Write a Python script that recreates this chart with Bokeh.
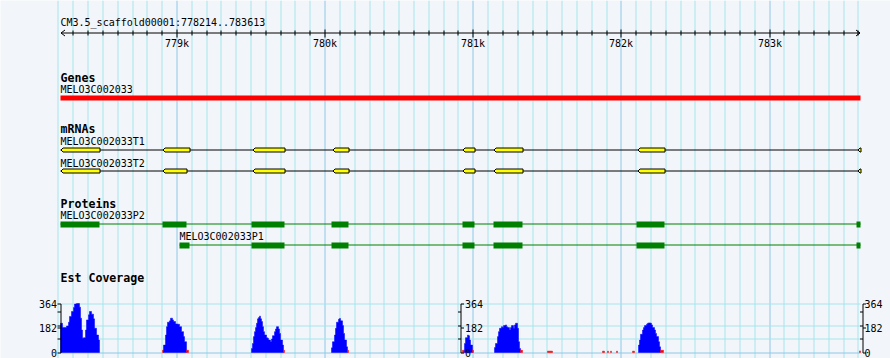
import math
from bokeh.plotting import figure
from bokeh.models import Range1d
from bokeh.embed import file_html
from bokeh.resources import INLINE
from bokeh.core.properties import value

# ---------------- data ----------------
region_name = "CM3.5_scaffold00001"
region_start = 778214
region_end = 783613

gene_name = "MELO3C002033"
gene_span = [778214, 783613]

t1_name = "MELO3C002033T1"
t1_exon_starts = [778214, 778909, 779510, 780050, 780934, 781143, 782115, 783600]
t1_exon_ends = [778477, 779085, 779726, 780158, 781008, 781332, 782291, 783613]

t2_name = "MELO3C002033T2"
t2_exon_starts = [778214, 778909, 779510, 780050, 780934, 781143, 782115, 783600]
t2_exon_ends = [778477, 779064, 779726, 780158, 781008, 781332, 782291, 783613]

p2_name = "MELO3C002033P2"
p2_cds_starts = [778214, 778902, 779503, 780043, 780927, 781137, 782102, 783589]
p2_cds_ends = [778477, 779064, 779726, 780158, 781008, 781332, 782291, 783613]

p1_name = "MELO3C002033P1"
p1_cds_starts = [779017, 779503, 780043, 780927, 781137, 782102, 783589]
p1_cds_ends = [779085, 779726, 780158, 781008, 781332, 782291, 783613]

track_titles = ["Genes", "mRNAs", "Proteins", "Est Coverage"]

# EST coverage: bin start positions and values (a 0 closes a run)
cov_pos = [
    778214, 778228, 778255, 778268, 778277, 778288, 778300, 778311, 778322, 778340,
    778347, 778356, 778363, 778369, 778383, 778390, 778401, 778412, 778423, 778435,
    778446, 778457, 778468, 778475, 778478,
    778903, 778911, 778921, 778930, 778939, 778948, 778959, 778968, 778979, 778992,
    779006, 779019, 779031, 779042, 779053, 779062, 779076,
    779503, 779510, 779517, 779524, 779530, 779537, 779544, 779553, 779559, 779566,
    779573, 779580, 779586, 779593, 779603, 779611, 779620, 779630, 779638, 779647,
    779656, 779665, 779674, 779683, 779692, 779701, 779710, 779717, 779726,
    780043, 780052, 780061, 780070, 780079, 780088, 780097, 780106, 780115, 780124,
    780133, 780142, 780149, 780158,
    780930, 780941, 780950, 780959, 780966, 780975, 780984, 780993, 781004,
    781144, 781152, 781162, 781171, 781179, 781189, 781198, 781206, 781216, 781225,
    781233, 781243, 781252, 781260, 781270, 781279, 781287, 781297, 781306, 781314,
    781321, 781333,
    781499, 781533, 781870, 781884, 781904, 781915, 781926, 781933, 781965, 781972,
    782075, 782086,
    782113, 782122, 782131, 782140, 782149, 782158, 782167, 782176, 782185, 782194,
    782203, 782212, 782221, 782230, 782239, 782248, 782257, 782266, 782286,
    783605, 783614,
]
cov_val = [
    217, 185, 197, 225, 268, 305, 335, 360, 364, 337,
    255, 167, 105, 110, 167, 242, 280, 305, 285, 250,
    180, 130, 92, 35, 0,
    17, 55, 130, 192, 225, 235, 255, 242, 230, 212,
    210, 192, 155, 118, 80, 17, 0,
    30, 67, 118, 155, 185, 217, 250, 260, 270, 250,
    230, 192, 155, 130, 110, 105, 92, 80, 100, 125,
    155, 175, 192, 175, 142, 92, 55, 17, 0,
    35, 80, 130, 180, 225, 247, 253, 235, 200, 142,
    92, 42, 17, 0,
    17, 67, 110, 130, 125, 92, 55, 17, 0,
    37, 67, 118, 155, 180, 192, 185, 200, 205, 192,
    185, 167, 185, 200, 180, 205, 217, 180, 80, 30,
    17, 0,
    10, 0, 10, 0, 10, 0, 10, 0, 10, 0,
    10, 0,
    55, 92, 135, 167, 185, 200, 210, 217, 220, 217,
    205, 185, 167, 142, 118, 80, 42, 17, 0,
    12, 0,
]
cov_max = 364
cov_labels = [0, 182, 364]
cov_minor_ticks = [100, 200, 300]
cov_gridlines = [100, 200, 364]
low_cutoff = 25

ruler_minor = 100
ruler_major = 1000

# ---------------- styles / layout ----------------
W, H = 890, 358
BG = "#F2F5FA"
GRID_MINOR = "#A4E6EC"
GRID_MAJOR = "#8FC8E6"
MONO = value("DejaVu Sans Mono")
TDY = -3.0                      # text baseline correction (px)
BP_PX = 5400 / 800.0            # bp per pixel
LEFT_PX = 60.0
x0 = region_start - LEFT_PX * BP_PX
x1 = x0 + W * BP_PX
span_end = region_end + 1

# coverage y-range: 0 -> 352 px from top, 364 -> 303 px
k = 49.0 / cov_max
cov_lo = -(H - 352) / k
cov_hi = cov_lo + H / k


def px(n):
    return n * BP_PX


def snap_c(g):
    """snap a genomic position to the centre of its pixel column (crisp 1px lines)"""
    return x0 + (math.floor((g - x0) / BP_PX) + 0.5) * BP_PX


def snap_e(g):
    """snap a genomic position to the nearest pixel edge"""
    return x0 + round((g - x0) / BP_PX) * BP_PX


def snap_cov(v):
    """snap a coverage value to a pixel-row centre"""
    ypix = H - (v - cov_lo) * k
    ypix = math.floor(ypix) + 0.5
    return cov_lo + (H - ypix) / k


p = figure(width=W, height=H, output_backend="svg", toolbar_location=None,
           x_range=Range1d(x0, x1), y_range=Range1d(H, 0),
           min_border=0, x_axis_location=None, y_axis_location=None)
p.extra_y_ranges = {"cov": Range1d(cov_lo, cov_hi)}
p.background_fill_color = BG
p.border_fill_color = BG
p.outline_line_color = None
p.xgrid.visible = False
p.ygrid.visible = False

# vertical grid lines (underlay so data draws on top)
first = (region_start // ruler_minor) * ruler_minor
grid_x = list(range(first, region_end + 1, ruler_minor))
minor_x = [snap_c(g) for g in grid_x if g % ruler_major != 0]
major_x = [snap_c(g) for g in grid_x if g % ruler_major == 0]
r = p.segment(x0=minor_x, y0=[0] * len(minor_x), x1=minor_x, y1=[H] * len(minor_x),
              line_color=GRID_MINOR, line_width=1)
r.level = "underlay"
r = p.segment(x0=major_x, y0=[0] * len(major_x), x1=major_x, y1=[H] * len(major_x),
              line_color=GRID_MAJOR, line_width=1)
r.level = "underlay"

# coverage horizontal grid
hg = [snap_cov(v) for v in cov_gridlines]
r = p.segment(x0=[snap_e(region_start)] * len(hg), y0=hg,
              x1=[snap_e(span_end)] * len(hg), y1=hg,
              line_color=GRID_MINOR, line_width=1, y_range_name="cov")
r.level = "underlay"
r = p.segment(x0=[snap_e(region_start)], y0=[snap_cov(0)], x1=[snap_e(span_end)], y1=[snap_cov(0)],
              line_color=GRID_MAJOR, line_width=1, y_range_name="cov")
r.level = "underlay"

# ---------------- ruler ----------------
p.text(x=[region_start], y=[24.5 + TDY], text=[f"{region_name}:{region_start}..{region_end}"],
       text_font=MONO, text_font_size="10px", text_color="black",
       text_baseline="alphabetic", text_align="left")
ry = 32.5
rs, re_ = snap_c(region_start), snap_c(span_end - 1)
p.segment(x0=[rs], y0=[ry], x1=[re_], y1=[ry], line_color="black", line_width=1)
p.segment(x0=[rs, rs], y0=[ry, ry], x1=[rs + px(4), rs + px(4)], y1=[29.5, 35.5],
          line_color="black", line_width=1)
p.segment(x0=[re_, re_], y0=[ry, ry], x1=[re_ - px(4), re_ - px(4)], y1=[29.5, 35.5],
          line_color="black", line_width=1)
tick_x = [g for g in grid_x if g > region_start]
tminor = [snap_c(g) for g in tick_x if g % ruler_major != 0]
tmaj_g = [g for g in tick_x if g % ruler_major == 0]
tmajor = [snap_c(g) for g in tmaj_g]
p.segment(x0=tminor, y0=[30] * len(tminor), x1=tminor, y1=[35] * len(tminor),
          line_color="black", line_width=1)
p.segment(x0=tmajor, y0=[29] * len(tmajor), x1=tmajor, y1=[37] * len(tmajor),
          line_color="black", line_width=1)
p.text(x=tmajor, y=[46 + TDY] * len(tmajor), text=[f"{g // 1000}k" for g in tmaj_g],
       text_font=MONO, text_font_size="10px", text_color="black",
       text_baseline="alphabetic", text_align="center")

# ---------------- track titles ----------------
title_y = [80 + TDY, 131.5 + TDY, 206 + TDY, 280 + TDY]
p.text(x=[region_start] * 4, y=title_y, text=track_titles,
       text_font=MONO, text_font_size="11.6px", text_font_style="bold",
       text_color="black", text_baseline="alphabetic", text_align="left")


def label(xg, yb, s):
    p.text(x=[xg], y=[yb + TDY], text=[s], text_font=MONO, text_font_size="10px",
           text_color="black", text_baseline="alphabetic", text_align="left")


# ---------------- genes ----------------
label(gene_span[0], 92.3, gene_name)
p.quad(left=[snap_e(gene_span[0])], right=[snap_e(gene_span[1] + 1)], bottom=[100], top=[95],
       fill_color="#FF0000", line_color=None)


# ---------------- mRNAs ----------------
def mrna(starts, ends, top, bot, name, label_y):
    label(starts[0], label_y, name)
    mid = (top + bot) / 2.0
    p.segment(x0=[snap_e(starts[0])], y0=[mid], x1=[snap_e(ends[-1] + 1)], y1=[mid],
              line_color="black", line_width=1)
    xs, ys = [], []
    notch = px(2)
    for s, e in zip(starts, ends):
        s = snap_c(s)
        e = snap_c(e + 1)
        if s <= region_start:
            xs.append([s, e, e, s])
            ys.append([top, top, bot, bot])
        else:
            xs.append([s, s + notch, e, e, s + notch])
            ys.append([mid, top, top, bot, bot])
    p.patches(xs=xs, ys=ys, fill_color="#FFFF00", line_color="black", line_width=1)


mrna(t1_exon_starts, t1_exon_ends, 147.5, 151.5, t1_name, 144)
mrna(t2_exon_starts, t2_exon_ends, 168.5, 172.5, t2_name, 165.7)


# ---------------- proteins ----------------
def protein(starts, ends, top, bot, line_y, name, label_y):
    label(starts[0], label_y, name)
    p.segment(x0=[snap_e(starts[0])], y0=[line_y], x1=[snap_e(ends[-1] + 1)], y1=[line_y],
              line_color="#008000", line_width=1)
    p.quad(left=[snap_e(s) for s in starts], right=[snap_e(e + 1) for e in ends],
           top=[top] * len(starts), bottom=[bot] * len(starts),
           fill_color="#008000", line_color=None)


protein(p2_cds_starts, p2_cds_ends, 221, 227, 223.5, p2_name, 218)
protein(p1_cds_starts, p1_cds_ends, 242, 248, 244.5, p1_name, 239.3)

# ---------------- EST coverage (step polygons, one per same-colour run) ----------------
runs = []          # (colour, [(left, right, value), ...])
for i in range(len(cov_pos) - 1):
    v = cov_val[i]
    if v <= 0:
        continue
    col = "#FF0000" if v < low_cutoff else "#0000FF"
    lft, rgt = snap_e(cov_pos[i]), snap_e(cov_pos[i + 1])
    if runs and runs[-1][0] == col and abs(runs[-1][1][-1][1] - lft) < 1e-6:
        runs[-1][1].append((lft, rgt, v))
    else:
        runs.append((col, [(lft, rgt, v)]))

pxs, pys, pcols = [], [], []
for col, bins in runs:
    xs = [bins[0][0]]
    ys = [0]
    for lft, rgt, v in bins:
        xs += [lft, rgt]
        ys += [v, v]
    xs.append(bins[-1][1])
    ys.append(0)
    pxs.append(xs)
    pys.append(ys)
    pcols.append(col)
p.patches(xs=pxs, ys=pys, fill_color=pcols, fill_alpha=1.0, line_color=pcols,
          line_width=0.5, y_range_name="cov")

# axes of the coverage track
ax_left = snap_c(region_start)
ax_mid = snap_c(region_start + px(400))
ax_right = snap_c(region_start + px(802))
lab_s = [snap_cov(v) for v in cov_labels]
min_s = [snap_cov(v) for v in cov_minor_ticks]
for ax, side in [(ax_left, "left"), (ax_mid, "mid"), (ax_right, "right")]:
    p.segment(x0=[ax], y0=[snap_cov(0)], x1=[ax], y1=[snap_cov(cov_max)], line_color="black",
              line_width=1, y_range_name="cov")
    if side == "left":
        tv = lab_s + min_s
        p.segment(x0=[ax - px(3.5)] * len(tv), y0=tv, x1=[ax] * len(tv), y1=tv,
                  line_color="black", line_width=1, y_range_name="cov")
        p.text(x=[ax - px(4)] * len(cov_labels), y=cov_labels,
               text=[str(v) for v in cov_labels], text_font=MONO, text_font_size="10px",
               text_color="black", text_baseline="middle", text_align="right",
               y_range_name="cov")
    else:
        p.segment(x0=[ax] * len(lab_s), y0=lab_s, x1=[ax + px(3)] * len(lab_s), y1=lab_s,
                  line_color="black", line_width=1, y_range_name="cov")
        p.segment(x0=[ax - px(3)] * len(min_s), y0=min_s, x1=[ax] * len(min_s), y1=min_s,
                  line_color="black", line_width=1, y_range_name="cov")
        off = px(4) if side == "mid" else px(1.5)
        p.text(x=[ax + off] * len(cov_labels), y=cov_labels,
               text=[str(v) for v in cov_labels], text_font=MONO, text_font_size="10px",
               text_color="black", text_baseline="middle", text_align="left",
               y_range_name="cov")

open("out.html", "w").write(file_html(p, INLINE))
